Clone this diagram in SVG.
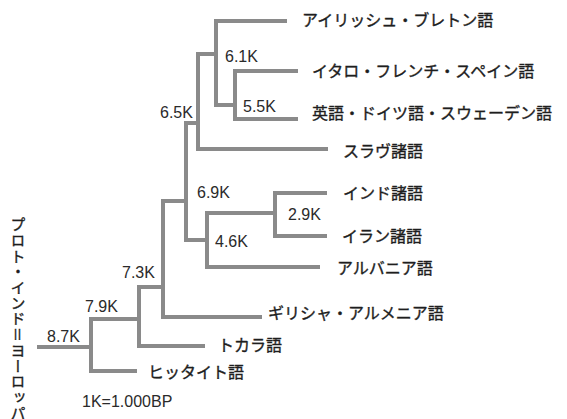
<svg xmlns="http://www.w3.org/2000/svg" width="567" height="419" viewBox="0 0 567 419">
<style>
  .edge { fill: none; stroke: #8a8a8a; stroke-width: 4; stroke-linejoin: miter; stroke-linecap: butt; }
  .num { font-family: "Liberation Sans", Arial, sans-serif; font-size: 16px; fill: #2a2a2a; }
  .lang { font-family: "Noto Sans CJK JP", "Noto Sans CJK SC", sans-serif; font-size: 16px; fill: #1e1e1e; stroke: #1e1e1e; stroke-width: 0.35px; }
  .vert { font-family: "Noto Sans CJK JP", "Noto Sans CJK SC", sans-serif; font-size: 15px; fill: #1e1e1e; stroke: #1e1e1e; stroke-width: 0.35px; writing-mode: vertical-rl; letter-spacing: 0.7px; }
</style>
<rect width="567" height="419" fill="#ffffff"/>
<g id="connectors">
  <path class="edge" d="M37,347 H91"/>
  <path class="edge" d="M91,347 V319 H139"/>
  <path class="edge" d="M91,347 V371 H137"/>
  <path class="edge" d="M139,319 V287 H163"/>
  <path class="edge" d="M139,319 V346 H205"/>
  <path class="edge" d="M163,287 V201 H186"/>
  <path class="edge" d="M163,287 V317 H262"/>
  <path class="edge" d="M186,201 V123 H198"/>
  <path class="edge" d="M186,201 V240 H207"/>
  <path class="edge" d="M198,123 V54 H216"/>
  <path class="edge" d="M198,123 V149 H328"/>
  <path class="edge" d="M216,54 V21 H287"/>
  <path class="edge" d="M216,54 V105 H235"/>
  <path class="edge" d="M235,105 V71 H298"/>
  <path class="edge" d="M235,105 V119 H298"/>
  <path class="edge" d="M207,240 V213 H275"/>
  <path class="edge" d="M207,240 V267 H320"/>
  <path class="edge" d="M275,213 V193 H327"/>
  <path class="edge" d="M275,213 V236 H327"/>
</g>
<g id="root"><text class="vert" x="18" y="217">プロト・インド＝ヨーロッパ</text></g>
<g id="n87"><text class="num" x="47" y="342">8.7K</text></g>
<g id="n79"><text class="num" x="85" y="312">7.9K</text></g>
<g id="n73"><text class="num" x="122" y="278">7.3K</text></g>
<g id="n69"><text class="num" x="197" y="198">6.9K</text></g>
<g id="n65"><text class="num" x="160" y="118">6.5K</text></g>
<g id="n61"><text class="num" x="225" y="62">6.1K</text></g>
<g id="n55"><text class="num" x="243" y="112">5.5K</text></g>
<g id="n46"><text class="num" x="215" y="247">4.6K</text></g>
<g id="n29"><text class="num" x="288" y="220">2.9K</text></g>
<g id="irish"><text class="lang" x="302" y="26">アイリッシュ・ブレトン語</text></g>
<g id="italo"><text class="lang" x="312" y="77">イタロ・フレンチ・スペイン語</text></g>
<g id="english"><text class="lang" x="312" y="119">英語・ドイツ語・スウェーデン語</text></g>
<g id="slavic"><text class="lang" x="343" y="157">スラヴ諸語</text></g>
<g id="indo"><text class="lang" x="343" y="199">インド諸語</text></g>
<g id="iran"><text class="lang" x="342" y="242">イラン諸語</text></g>
<g id="albanian"><text class="lang" x="337" y="274">アルバニア語</text></g>
<g id="greek"><text class="lang" x="268" y="319">ギリシャ・アルメニア語</text></g>
<g id="tocharian"><text class="lang" x="218" y="351">トカラ語</text></g>
<g id="hittite"><text class="lang" x="148" y="378">ヒッタイト語</text></g>
<g id="note"><text class="num" x="82" y="407">1K=1.000BP</text></g>
</svg>
